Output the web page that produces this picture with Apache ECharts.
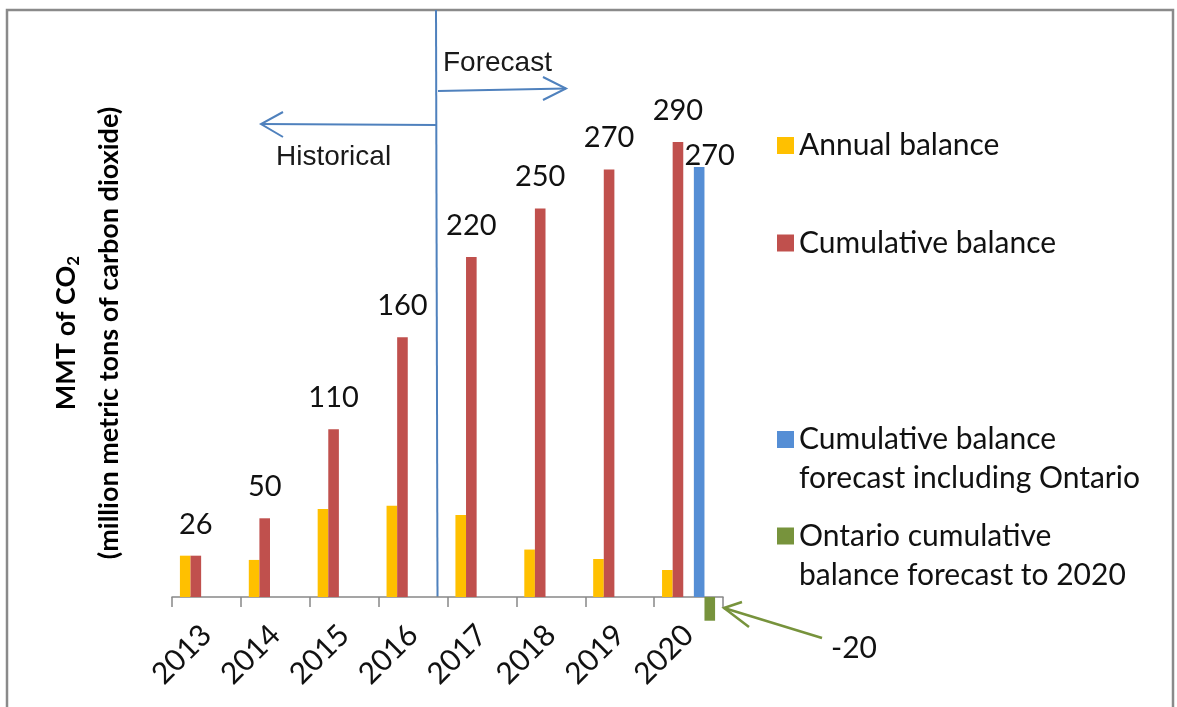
<!DOCTYPE html>
<html>
<head>
<meta charset="utf-8">
<script src="https://cdn.jsdelivr.net/npm/echarts@6/dist/echarts.min.js"></script>
<style>html,body{margin:0;padding:0;background:#fff}#c{width:1177px;height:707px}</style>
</head>
<body>
<div id="c"></div>
<script>
// ---- data ----
const categories = ['2013', '2014', '2015', '2016', '2017', '2018', '2019', '2020'];
const annualBalance = [26.3, 23.6, 56.0, 58.1, 52.2, 30.2, 24.2, 17.2];
const cumulativeBalance = [26.3, 50.1, 106.7, 165.3, 216.4, 247.3, 272.1, 289.6];
const cumulativeLabels = ['26', '50', '110', '160', '220', '250', '270', '290'];
const forecastInclOntario = [null, null, null, null, null, null, null, 273.7];
const forecastInclOntarioLabels = ['', '', '', '', '', '', '', '270'];
const ontarioCumulative = [null, null, null, null, null, null, null, -15.1];
const ontarioLabel = '-20';
const spacer = [null, null, null, null, null, null, null, null];
const seriesNames = [
  'Annual balance',
  'Cumulative balance',
  'Cumulative balance\nforecast including Ontario',
  'Ontario cumulative\nbalance forecast to 2020'
];
const yTitle = ['MMT of CO', '2', '(million metric tons of carbon dioxide)'];
const periodLabels = ['Historical', 'Forecast'];
const yMin = -50, yMax = 300;

// ---- chart ----
const FONT = 'Lato';
const TXT = '#111';
const chart = echarts.init(document.getElementById('c'), null, {renderer: 'canvas'});

const gridTop = 125.7, gridBottomPx = 675.55;
const zeroOffset = (gridBottomPx - gridTop) * (0 - yMin) / (yMax - yMin);

const legendText = {fontFamily: FONT, fontSize: 30, color: TXT, lineHeight: 39};
const twoLineIcon = 'path://M0,11h17v17h-17zM0,0h0.01v0.01h-0.01zM0,78h0.01v-0.01h-0.01z';

function legendFor(name, top, twoLine) {
  return {
    data: [name], left: 777, top: top, orient: 'vertical', padding: 0,
    itemWidth: 17, itemHeight: twoLine ? 78 : 17,
    icon: twoLine ? twoLineIcon : 'rect',
    selectedMode: false, textStyle: legendText
  };
}

const option = {
  animation: false,
  backgroundColor: '#fff',
  grid: {left: 172, right: 454, top: gridTop, bottom: 707 - gridBottomPx,
    containLabel: false, outerBoundsMode: 'none'},
  legend: [
    legendFor(seriesNames[0], 126, false),
    legendFor(seriesNames[1], 223.5, false),
    legendFor(seriesNames[2], 420, true),
    legendFor(seriesNames[3], 516.5, true)
  ],
  xAxis: {
    type: 'category', data: categories, position: 'bottom', offset: -zeroOffset,
    axisLine: {onZero: false, lineStyle: {color: '#888', width: 1.5}},
    axisTick: {show: true, length: 10, lineStyle: {color: '#888', width: 1.5}},
    axisLabel: {rotate: 45, margin: 33, fontFamily: FONT, fontSize: 30, color: TXT}
  },
  yAxis: {type: 'value', min: yMin, max: yMax, show: false, splitLine: {show: false}},
  series: [
    {
      name: seriesNames[0], type: 'bar', data: annualBalance,
      barGap: '0%', barCategoryGap: '23%',
      itemStyle: {color: '#FFC000'}
    },
    {
      name: seriesNames[1], type: 'bar', data: cumulativeBalance,
      itemStyle: {color: '#C0504D'},
      label: {
        show: true, position: 'top', distance: 17,
        fontFamily: FONT, fontSize: 29, color: TXT,
        formatter: p => cumulativeLabels[p.dataIndex]
      }
    },
    {name: 'spacer', type: 'bar', data: spacer},
    {
      name: seriesNames[2], type: 'bar', data: forecastInclOntario,
      itemStyle: {color: '#558ED5'},
      label: {
        show: true, position: 'top', distance: 17, offset: [10.5, 20.5],
        fontFamily: FONT, fontSize: 29, color: TXT,
        formatter: p => forecastInclOntarioLabels[p.dataIndex]
      }
    },
    {
      name: seriesNames[3], type: 'bar', data: ontarioCumulative,
      itemStyle: {color: '#77933C'}
    }
  ],
  graphic: [
    {type: 'rect', silent: true, shape: {x: 7, y: 10, width: 1166, height: 720},
      style: {fill: 'none', stroke: '#8a8a8a', lineWidth: 2.5}},
    // forecast divider
    {type: 'line', silent: true, shape: {x1: 436, y1: 10, x2: 437.5, y2: 597},
      style: {stroke: '#4F81BD', lineWidth: 2}},
    {type: 'polyline', silent: true, shape: {points: [[436, 125], [261, 124]]},
      style: {fill: 'none', stroke: '#4F81BD', lineWidth: 2}},
    {type: 'polyline', silent: true, shape: {points: [[283, 112], [261, 124], [283, 137]]},
      style: {fill: 'none', stroke: '#4F81BD', lineWidth: 2}},
    {type: 'polyline', silent: true, shape: {points: [[438, 91], [566, 88.5]]},
      style: {fill: 'none', stroke: '#4F81BD', lineWidth: 2}},
    {type: 'polyline', silent: true, shape: {points: [[543, 77], [566, 88.5], [543, 100]]},
      style: {fill: 'none', stroke: '#4F81BD', lineWidth: 2}},
    {type: 'text', silent: true, x: 443, y: 63.5,
      style: {text: periodLabels[1], fontFamily: 'Liberation Sans', fontSize: 28, fill: '#1a1a1a',
        align: 'left', verticalAlign: 'middle'}},
    {type: 'text', silent: true, x: 276, y: 157,
      style: {text: periodLabels[0], fontFamily: 'Liberation Sans', fontSize: 28, fill: '#1a1a1a',
        align: 'left', verticalAlign: 'middle'}},
    // y axis title
    {type: 'text', silent: true, x: 88, y: 333, rotation: Math.PI / 2,
      style: {
        text: '{a|' + yTitle[0] + '}{s|' + yTitle[1] + '}\n{a|' + yTitle[2] + '}',
        align: 'center', verticalAlign: 'middle',
        rich: {
          a: {fontFamily: FONT, fontWeight: 'bold', fontSize: 27, lineHeight: 43, fill: '#000'},
          s: {fontFamily: FONT, fontWeight: 'bold', fontSize: 17, lineHeight: 43, fill: '#000', padding: [15, 0, 0, 0]}
        }
      }},
    // Ontario arrow + label
    {type: 'polyline', silent: true, shape: {points: [[822, 638], [724, 608]]},
      style: {fill: 'none', stroke: '#77933C', lineWidth: 2.5}},
    {type: 'polyline', silent: true, shape: {points: [[742, 602], [724, 608], [749, 627]]},
      style: {fill: 'none', stroke: '#77933C', lineWidth: 2.5}},
    {type: 'text', silent: true, x: 831, y: 648,
      style: {text: ontarioLabel, fontFamily: FONT, fontSize: 30, fill: TXT,
        align: 'left', verticalAlign: 'middle'}}
  ]
};
chart.setOption(option);
</script>
</body>
</html>
